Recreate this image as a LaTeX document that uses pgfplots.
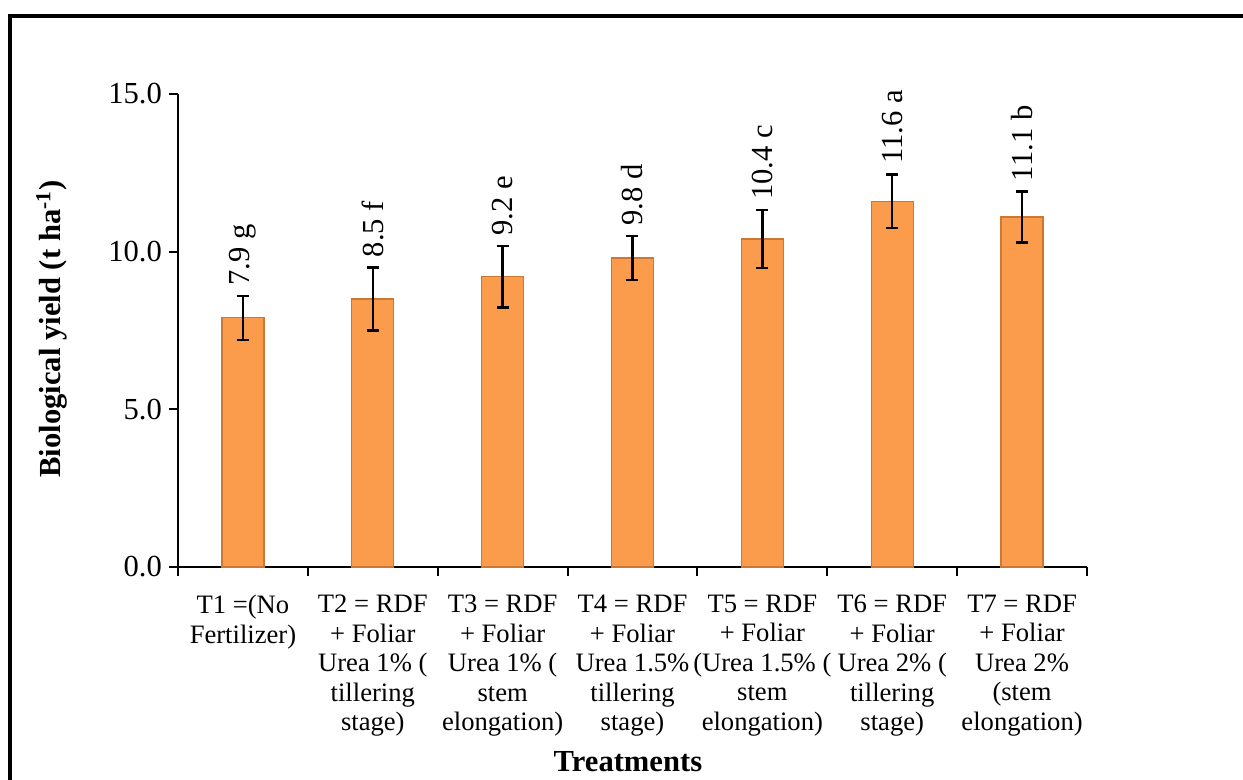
\documentclass[border=0pt]{standalone}
\usepackage{fontspec}
\setmainfont{LiberationSerif}[Extension=.ttf, UprightFont=*-Regular, BoldFont=*-Bold, ItalicFont=*-Italic, BoldItalicFont=*-BoldItalic]
\usepackage{pgfplots}
\usepackage{pgfplotstable}
\pgfplotsset{compat=1.18}
\definecolor{barfill}{RGB}{250,156,76}
\definecolor{baredge}{RGB}{205,120,50}
\pgfplotstableread[col sep=comma]{
x,y,err,label
0,7.9,0.70,7.9 g
1,8.5,1.00,8.5 f
2,9.2,0.97,9.2 e
3,9.8,0.70,9.8 d
4,10.4,0.92,10.4 c
5,11.6,0.85,11.6 a
6,11.1,0.81,11.1 b
}\datatable
\begin{document}
\begin{tikzpicture}
\useasboundingbox (0,0) rectangle (621.5pt,390pt);
\draw[line width=1.75pt] (5pt,-2pt) -- (5pt,382.1pt) -- (625pt,382.1pt);
\begin{axis}[
  at={(89pt,106.5pt)}, anchor=south west,
  scale only axis, width=454.5pt, height=236.5pt,
  xmin=-0.5, xmax=6.5, ymin=0, ymax=15,
  axis x line*=bottom, axis y line*=left,
  axis line style={-, line width=1pt},
  clip=false,
  ytick={0,5,10,15},
  yticklabel style={/pgf/number format/fixed, /pgf/number format/fixed zerofill, /pgf/number format/precision=1, /pgf/number format/assume math mode=true, font=\fontsize{15.3}{17}\selectfont},
  tick align=outside,
  major tick length=4.5pt,
  tick style={line width=1pt, black},
  xtick={0,...,6},
  x tick style={draw=none},
  minor xtick={-0.5,0.5,...,6.5},
  minor tick length=4.5pt,
  minor x tick style={line width=1pt, black, draw=black},
  xticklabels={
    {T1 =(No\\Fertilizer)},
    {T2 = RDF\\+ Foliar\\Urea 1\% (\\tillering\\stage)},
    {T3 = RDF\\+ Foliar\\Urea 1\% (\\stem\\elongation)},
    {T4 = RDF\\+ Foliar\\Urea 1.5\%\\tillering\\stage)},
    {T5 = RDF\\+ Foliar\\(Urea 1.5\% (\\stem\\elongation)},
    {T6 = RDF\\+ Foliar\\Urea 2\% (\\tillering\\stage)},
    {T7 = RDF\\+ Foliar\\Urea 2\%\\(stem\\elongation)}},
  xticklabel style={align=center, font=\fontsize{13.3}{14.75}\selectfont, anchor=north, yshift=-6pt},
  ylabel={\textbf{Biological yield (t ha\textsuperscript{-1})}},
  ylabel style={at={(axis description cs:-0.1386,0.503)}, anchor=center, font=\fontsize{15.3}{17}\selectfont},
  xlabel={\textbf{Treatments}},
  xlabel style={at={(axis description cs:0.495,-0.412)}, anchor=center, font=\fontsize{15.3}{17}\selectfont},
]
\addplot[ybar, bar width=21pt, fill=barfill, draw=baredge, line width=0.6pt,
  error bars/.cd, y dir=both, y explicit,
  error bar style={line width=1.2pt, black},
  error mark options={rotate=90, mark size=3pt, line width=1.2pt, black}]
  table[x=x, y=y, y error=err] {\datatable};
\addplot[draw=none, mark=none, nodes near coords, point meta=explicit symbolic,
  nodes near coords style={rotate=90, anchor=west, font=\fontsize{15.3}{17}\selectfont, inner sep=5pt}]
  table[x=x, y expr=\thisrow{y}+\thisrow{err}, meta=label] {\datatable};
\end{axis}
\end{tikzpicture}
\end{document}
